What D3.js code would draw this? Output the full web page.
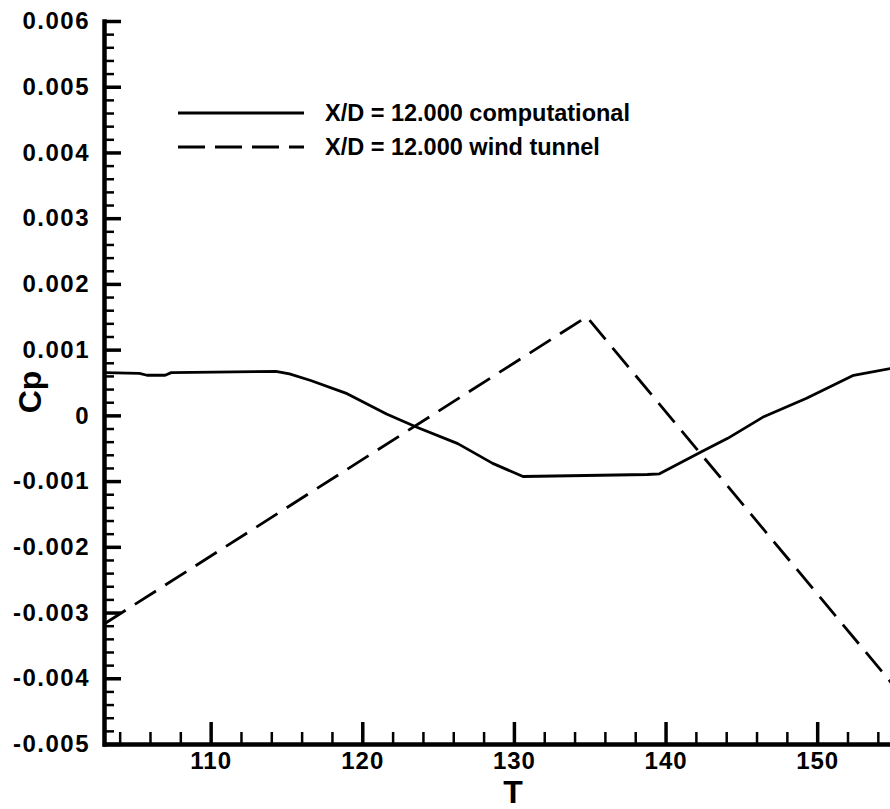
<!DOCTYPE html>
<html>
<head>
<meta charset="utf-8">
<script src="https://cdn.jsdelivr.net/npm/d3@7"></script>
<style>
  html, body { margin: 0; padding: 0; background: #fff; }
  svg { display: block; }
  text { font-family: "Liberation Sans", Arial, Helvetica, sans-serif; font-weight: bold; fill: #000; }
</style>
</head>
<body>
<script>
// ---- data ----
const compT = [103, 105.3, 105.8, 107, 107.4, 114.3, 115.2, 116.6, 119.0, 121.6, 123.6, 126.3, 128.6, 130.6, 138.8, 139.6, 142.4, 144.1, 146.4, 149.3, 152.4, 155];
const compCp = [0.00065, 0.00064, 0.00061, 0.00061, 0.00065, 0.00067, 0.00063, 0.00053, 0.00033, 0.00002, -0.00018, -0.00043, -0.00073, -0.00093, -0.00090, -0.00089, -0.00055, -0.00035, -0.00003, 0.00026, 0.00061, 0.00072];
const windT = [103, 134.8, 155];
const windCp = [-0.00317, 0.0015, -0.0041];
const seriesLabels = ["X/D = 12.000 computational", "X/D = 12.000 wind tunnel"];
const xMajorTicks = [110, 120, 130, 140, 150];
const xMinorTicks = [104, 106, 108, 112, 114, 116, 118, 122, 124, 126, 128, 132, 134, 136, 138, 142, 144, 146, 148, 152, 154];
const yMajorTicks = [-0.005, -0.004, -0.003, -0.002, -0.001, 0, 0.001, 0.002, 0.003, 0.004, 0.005, 0.006];
const yTickLabels = ["-0.005", "-0.004", "-0.003", "-0.002", "-0.001", "0", "0.001", "0.002", "0.003", "0.004", "0.005", "0.006"];

const W = 890, H = 809;
const svg = d3.select("body").append("svg").attr("width", W).attr("height", H);
svg.append("rect").attr("width", W).attr("height", H).attr("fill", "#fff");

const x = d3.scaleLinear().domain([103, 155]).range([104.5, 893]);
const y = d3.scaleLinear().domain([-0.005, 0.006]).range([744, 21]);

const yMinor = [];
for (let i = 0; i <= 55; i++) {
  const v = -0.005 + i * 0.0002;
  if (i % 5 !== 0) yMinor.push(+v.toFixed(5));
}

// minor ticks
const gyMinor = svg.append("g").attr("transform", "translate(104,0)")
  .call(d3.axisLeft(y).tickValues(yMinor).tickSizeInner(-10).tickSizeOuter(0).tickFormat(""));
gyMinor.select(".domain").remove();
gyMinor.selectAll(".tick line").attr("stroke", "#000").attr("stroke-width", 2.5);

const gxMinor = svg.append("g").attr("transform", "translate(0,744)")
  .call(d3.axisBottom(x).tickValues(xMinorTicks).tickSizeInner(-12).tickSizeOuter(0).tickFormat(""));
gxMinor.select(".domain").remove();
gxMinor.selectAll(".tick line").attr("stroke", "#000").attr("stroke-width", 2.5);

// major axes
const gy = svg.append("g").attr("transform", "translate(104,0)")
  .call(d3.axisLeft(y).tickValues(yMajorTicks).tickSizeInner(-17).tickSizeOuter(0).tickPadding(14)
    .tickFormat((d, i) => yTickLabels[i]));
gy.select(".domain").attr("stroke", "#000").attr("stroke-width", 4.5).attr("stroke-linecap", "square");
gy.selectAll(".tick line").attr("stroke", "#000").attr("stroke-width", 3.5);
gy.selectAll(".tick text").attr("font-size", 24).attr("letter-spacing", "1.5px")
  .style("font-family", '"Liberation Sans", Arial, sans-serif').style("font-weight", "bold");

const gx = svg.append("g").attr("transform", "translate(0,744)")
  .call(d3.axisBottom(x).tickValues(xMajorTicks).tickSizeInner(-22).tickSizeOuter(0).tickPadding(8)
    .tickFormat(d3.format("d")));
gx.select(".domain").attr("stroke", "#000").attr("stroke-width", 4.5).attr("stroke-linecap", "square");
gx.selectAll(".tick line").attr("stroke", "#000").attr("stroke-width", 3.5);
gx.selectAll(".tick text").attr("font-size", 24).attr("letter-spacing", "1px")
  .style("font-family", '"Liberation Sans", Arial, sans-serif').style("font-weight", "bold");

// axis titles
svg.append("text").attr("x", 513).attr("y", 803).attr("text-anchor", "middle")
  .attr("font-size", 32).text("T");
svg.append("text").attr("transform", "translate(41,392) rotate(-90)").attr("text-anchor", "middle")
  .attr("font-size", 32).text("Cp");

// lines
const line = d3.line().x(d => x(d[0])).y(d => y(d[1]));
const compData = compT.map((t, i) => [t, compCp[i]]);
const windData = windT.map((t, i) => [t, windCp[i]]);

svg.append("path").datum(compData).attr("d", line)
  .attr("fill", "none").attr("stroke", "#000").attr("stroke-width", 2.8).attr("stroke-linejoin", "round");
svg.append("path").datum(windData).attr("d", line)
  .attr("fill", "none").attr("stroke", "#000").attr("stroke-width", 2.8)
  .attr("stroke-dasharray", "25,11").attr("stroke-dashoffset", 0);

// legend
const legY = [113, 147];
const legDash = [null, "27,10"];
seriesLabels.forEach((lab, i) => {
  const l = svg.append("line").attr("x1", 178).attr("x2", 304).attr("y1", legY[i]).attr("y2", legY[i])
    .attr("stroke", "#000").attr("stroke-width", 2.8);
  if (legDash[i]) l.attr("stroke-dasharray", legDash[i]);
  svg.append("text").attr("x", 325).attr("y", legY[i]).attr("dominant-baseline", "central")
    .attr("font-size", 23.5).text(lab);
});
</script>
</body>
</html>
